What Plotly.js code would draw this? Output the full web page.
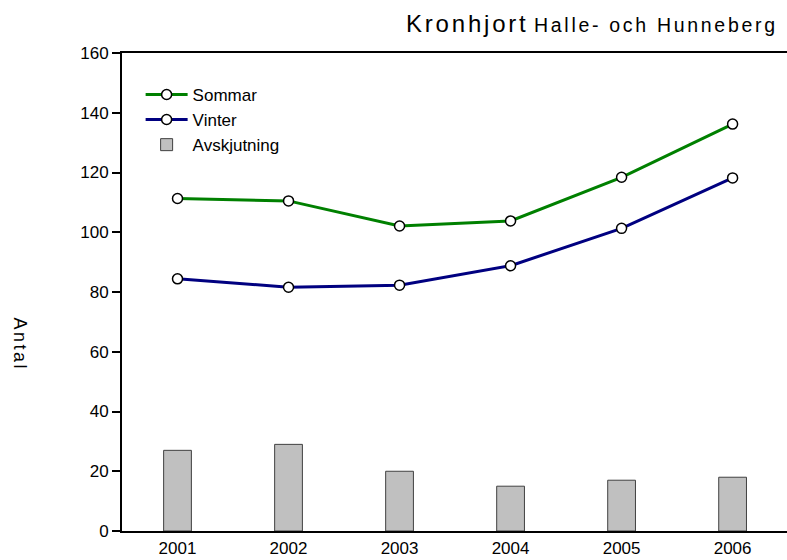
<!DOCTYPE html>
<html>
<head>
<meta charset="utf-8">
<script src="https://cdn.plot.ly/plotly-3.0.1.min.js"></script>
<style>html,body{margin:0;padding:0;background:#fff;}#chart{width:787px;height:560px;}</style>
</head>
<body>
<div id="chart"></div>
<script>
const years = ["2001", "2002", "2003", "2004", "2005", "2006"];
const sommar = [111.3, 110.5, 102.1, 103.8, 118.4, 136.2];
const vinter = [84.4, 81.6, 82.3, 88.8, 101.3, 118.2];
const avskjutning = [27, 29, 20, 15, 17, 18];
const yTicks = [0, 20, 40, 60, 80, 100, 120, 140, 160];

const FONT = "Liberation Sans, Arial, sans-serif";
const marker = {symbol: "circle", size: 10, color: "#ffffff", line: {color: "#000000", width: 1.5}};

const traces = [
  {type: "scatter", mode: "lines+markers", name: "Sommar", x: years, y: sommar,
   line: {color: "#008000", width: 3}, marker: marker},
  {type: "scatter", mode: "lines+markers", name: "Vinter", x: years, y: vinter,
   line: {color: "#000080", width: 3}, marker: marker},
  {type: "bar", name: "Avskjutning", x: years, y: avskjutning, width: 0.25,
   marker: {color: "#c0c0c0", line: {color: "#404040", width: 1}}}
];

const layout = {
  width: 787, height: 560,
  margin: {l: 122, r: 0, t: 53, b: 29},
  paper_bgcolor: "#ffffff", plot_bgcolor: "#ffffff",
  font: {family: FONT, size: 17, color: "#000000"},
  showlegend: true,
  legend: {x: 0.028, y: 0.95, xanchor: "left", yanchor: "top", bgcolor: "rgba(0,0,0,0)",
           font: {family: FONT, size: 17}, tracegroupgap: 0, itemwidth: 42},
  xaxis: {type: "category", range: [-0.5, 5.49], showline: true, linecolor: "#000", linewidth: 2,
          mirror: true, ticks: "", showgrid: false, zeroline: false, ticklabelstandoff: 1,
          tickfont: {family: FONT, size: 17}},
  yaxis: {range: [0, 160], tickvals: yTicks, showline: true, linecolor: "#000", linewidth: 2,
          ticks: "outside", ticklen: 8, tickwidth: 2, tickcolor: "#000", showgrid: false,
          zeroline: false, tickfont: {family: FONT, size: 17}},
  annotations: [
    {xref: "paper", yref: "paper", x: 1, y: 1, xshift: -7, yshift: 14, xanchor: "right", yanchor: "bottom",
     showarrow: false,
     text: "<span style='font-size:24px;letter-spacing:2.8px'>Kronhjort</span> <span style='font-size:19.5px;letter-spacing:2.7px'>Halle- och Hunneberg</span>",
     font: {family: FONT, size: 19.5, color: "#000"}},
    {xref: "paper", yref: "paper", x: 0, y: 0.39, xshift: -102, xanchor: "center", yanchor: "middle",
     showarrow: false, text: "<span style='letter-spacing:2.5px'>Antal</span>", textangle: 90,
     font: {family: FONT, size: 18, color: "#000"}}
  ]
};

Plotly.newPlot("chart", traces, layout, {displayModeBar: false, staticPlot: true});
</script>
</body>
</html>
